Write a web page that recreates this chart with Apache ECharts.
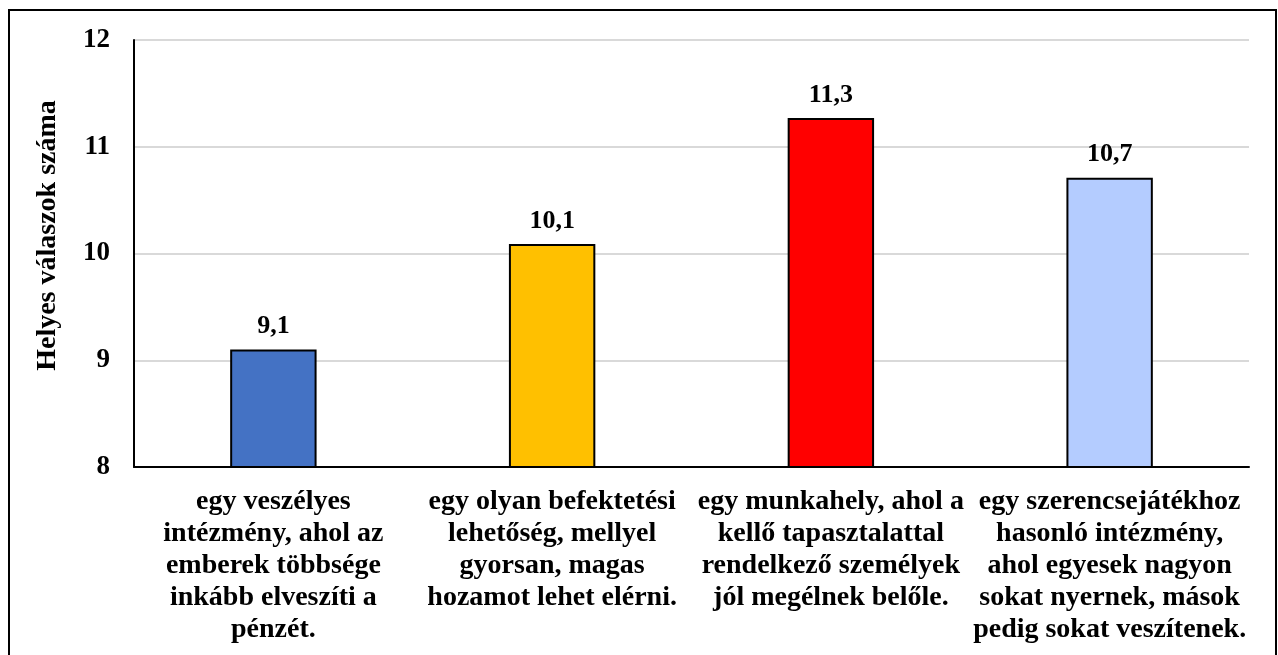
<!DOCTYPE html>
<html>
<head>
<meta charset="utf-8">
<script src="https://cdn.jsdelivr.net/npm/echarts@6/dist/echarts.min.js"></script>
<style>
  html, body { margin: 0; padding: 0; background: #fff; }
  #chart { width: 1278px; height: 655px; }
</style>
</head>
<body>
<div id="chart"></div>
<script>
var categories = [
  'egy veszélyes\nintézmény, ahol az\nemberek többsége\ninkább elveszíti a\npénzét.',
  'egy olyan befektetési\nlehetőség, mellyel\ngyorsan, magas\nhozamot lehet elérni.',
  'egy munkahely, ahol a\nkellő tapasztalattal\nrendelkező személyek\njól megélnek belőle.',
  'egy szerencsejátékhoz\nhasonló intézmény,\nahol egyesek nagyon\nsokat nyernek, mások\npedig sokat veszítenek.'
]
var values = [9.1, 10.09, 11.27, 10.71]
var barColors = ['#4472C4', '#FFC000', '#FF0000', '#B4CCFF']
var yName = 'Helyes válaszok száma'

var font = '"Liberation Serif", "Times New Roman", serif'
var chart = echarts.init(document.getElementById('chart'))

chart.setOption({
  animation: false,
  textStyle: { fontFamily: font },
  // outer frame
  graphic: [{
    type: 'rect',
    silent: true,
    shape: { x: 9, y: 10, width: 1267, height: 700 },
    style: { fill: 'none', stroke: '#000', lineWidth: 2 }
  }],
  grid: { left: 134, right: 29, top: 40, bottom: 188 },
  xAxis: {
    type: 'category',
    data: categories,
    axisTick: { show: false },
    axisLine: { lineStyle: { color: '#000', width: 2 } },
    axisLabel: {
      interval: 0,
      margin: 19,
      color: '#000',
      fontFamily: font,
      fontWeight: 'bold',
      fontSize: 28,
      lineHeight: 32,
      align: 'center'
    }
  },
  yAxis: {
    type: 'value',
    min: 8,
    max: 12,
    interval: 1,
    name: yName,
    nameLocation: 'middle',
    nameGap: 72,
    nameTextStyle: {
      color: '#000', fontFamily: font, fontWeight: 'bold', fontSize: 28,
      padding: [0, 0, 0, 36]
    },
    axisLine: { show: true, lineStyle: { color: '#000', width: 2 } },
    axisTick: { show: false },
    axisLabel: { color: '#000', fontFamily: font, fontWeight: 'bold', fontSize: 27, margin: 24 },
    splitLine: { lineStyle: { color: '#d9d9d9', width: 2 } }
  },
  series: [{
    type: 'bar',
    barWidth: '31%',
    data: values.map(function (v, i) {
      return { value: v, itemStyle: { color: barColors[i] } }
    }),
    itemStyle: { borderColor: '#000', borderWidth: 2 },
    label: {
      show: true,
      position: 'top',
      distance: 10,
      color: '#000',
      fontFamily: font,
      fontWeight: 'bold',
      fontSize: 26,
      formatter: function (p) { return p.value.toFixed(1).replace('.', ',') }
    }
  }]
})
</script>
</body>
</html>
